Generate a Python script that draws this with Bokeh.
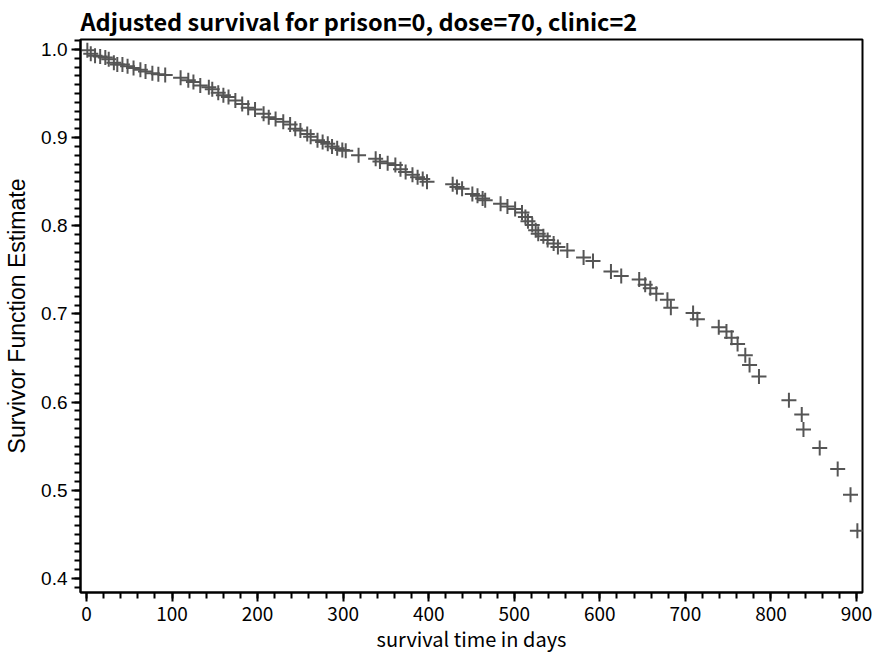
from bokeh.plotting import figure
from bokeh.models import Range1d, SingleIntervalTicker, NumeralTickFormatter
from bokeh.embed import file_html
from bokeh.resources import INLINE

# survival time (days) and adjusted survivor function estimate
days = [1, 5, 10, 16, 22, 26, 32, 36, 42, 48, 55, 63, 69, 77, 84, 92, 110, 119, 125, 133,
        143, 147, 154, 160, 166, 174, 182, 189, 197, 207, 213, 221, 230, 238,
        244, 250, 258, 262, 270, 276, 282, 287, 293, 299, 303, 318, 338, 343, 352, 361,
        367, 373, 381, 387, 393, 398,
        428, 433, 439, 451, 457, 463, 466, 484, 492, 501, 509, 513, 516, 521, 525, 528,
        534, 539, 546, 551, 562, 581, 592, 613, 625, 646, 653, 659, 666, 679, 683, 709,
        714, 739, 748, 754, 761, 770, 775, 786, 821, 836, 838, 857, 878, 893, 901]
surv = [0.999, 0.995, 0.993, 0.992, 0.991, 0.989, 0.985, 0.983, 0.983, 0.981, 0.979, 0.977,
        0.975, 0.973, 0.972, 0.971, 0.968, 0.965, 0.963, 0.959, 0.957, 0.955, 0.951, 0.948,
        0.946, 0.942, 0.938, 0.934, 0.932, 0.927, 0.923, 0.921, 0.918, 0.915,
        0.910, 0.908, 0.904, 0.901, 0.897, 0.895, 0.893, 0.890, 0.888, 0.886, 0.885, 0.880,
        0.876, 0.873, 0.871, 0.869, 0.864, 0.861, 0.858, 0.855, 0.853, 0.850,
        0.847, 0.844, 0.842, 0.836, 0.834, 0.831, 0.829, 0.825, 0.822, 0.819, 0.815, 0.810,
        0.805, 0.801, 0.795, 0.791, 0.788, 0.784, 0.780, 0.776, 0.772, 0.764, 0.760, 0.748,
        0.743, 0.739, 0.733, 0.729, 0.723, 0.716, 0.707, 0.701, 0.694, 0.685, 0.680, 0.673,
        0.666, 0.653, 0.642, 0.629, 0.602, 0.586, 0.569, 0.548, 0.524, 0.495, 0.454]

x_tick_step = 100   # x ticks 0, 100, ..., 900
y_tick_step = 0.1   # y ticks 0.4, 0.5, ..., 1.0

p = figure(width=883, height=655, output_backend="svg", toolbar_location=None,
           x_range=Range1d(-7, 907), y_range=Range1d(0.384, 1.0113),
           title="Adjusted survival for prison=0, dose=70, clinic=2",
           min_border_left=80, min_border_right=21, min_border_top=37, min_border_bottom=63)

p.title.text_font = "Noto Sans CJK JP"
p.title.text_font_size = "23.5px"
p.title.text_font_style = "bold"
p.title.text_color = "black"
p.title.align = "left"
p.title.standoff = 3

p.scatter(days, surv, marker="cross", size=15, line_color="#555555", line_width=2)

p.xgrid.visible = False
p.ygrid.visible = False
p.outline_line_color = "black"
p.outline_line_width = 2
p.background_fill_color = "white"
p.border_fill_color = "white"

xa = p.xaxis[0]
xa.ticker = SingleIntervalTicker(interval=x_tick_step, num_minor_ticks=5)
xa.axis_label = "survival time in days"
xa.axis_label_text_font = "Noto Sans CJK JP"
xa.axis_label_text_font_size = "20px"
xa.axis_label_text_font_style = "normal"
xa.axis_label_standoff = 0
xa.major_label_text_font = "Noto Sans CJK JP"
xa.major_label_text_font_size = "19px"
xa.major_label_standoff = 5

ya = p.yaxis[0]
ya.ticker = SingleIntervalTicker(interval=y_tick_step, num_minor_ticks=10)
ya.formatter = NumeralTickFormatter(format="0.0")
ya.axis_label = "Survivor Function Estimate"
ya.axis_label_text_font = "Liberation Sans"
ya.axis_label_text_font_size = "23px"
ya.axis_label_text_font_style = "normal"
ya.axis_label_standoff = 8
ya.major_label_text_font = "Liberation Sans"
ya.major_label_text_font_size = "19px"
ya.major_label_standoff = 4

for a in (xa, ya):
    a.major_label_text_color = "black"
    a.axis_label_text_color = "black"
    a.axis_line_color = "black"
    a.axis_line_width = 2
    a.major_tick_line_color = "black"
    a.major_tick_line_width = 2
    a.major_tick_out = 9
    a.major_tick_in = 0
    a.minor_tick_line_color = "black"
    a.minor_tick_line_width = 2
    a.minor_tick_out = 6
    a.minor_tick_in = 0

open("out.html", "w").write(file_html(p, INLINE))
